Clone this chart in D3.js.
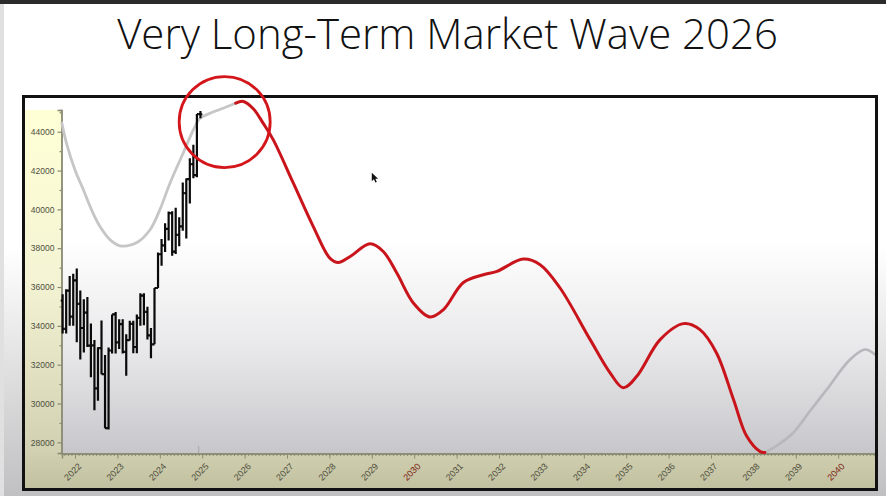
<!DOCTYPE html>
<html><head><meta charset="utf-8">
<script src="https://cdn.jsdelivr.net/npm/d3@7"></script>
<style>html,body{margin:0;padding:0;background:#fff;overflow:hidden}</style>
</head><body>
<svg id="c" width="886" height="496"></svg>
<script>
// ---------- DATA ----------
const titleText = "Very Long-Term Market Wave 2026";

// Monthly price bars (index)
const priceMonths = ["2021-09","2021-10","2021-11","2021-12","2022-01","2022-02","2022-03","2022-04","2022-05","2022-06","2022-07","2022-08","2022-09","2022-10","2022-11","2022-12","2023-01","2023-02","2023-03","2023-04","2023-05","2023-06","2023-07","2023-08","2023-09","2023-10","2023-11","2023-12","2024-01","2024-02","2024-03","2024-04","2024-05","2024-06","2024-07","2024-08","2024-09","2024-10","2024-11","2024-12"];
const priceOpen  = [35300,33840,35820,34480,36340,35130,33890,34680,32980,32990,30780,32850,31510,28730,32730,34590,33150,34090,32660,33270,34100,32910,34410,35560,34720,33510,33050,35950,37690,38150,39000,39810,37820,38690,39120,40840,41560,42330,41760,44910];
const priceHigh  = [35630,35890,36570,36680,36950,35820,35370,35490,34120,33270,32900,34280,32500,32890,34590,34710,34340,34340,33570,34260,34260,34590,35680,35680,34980,33890,35950,37780,38480,39280,39890,39900,40080,39600,41380,41590,42630,43330,44910,45070];
const priceLow   = [33610,33610,34010,34010,33150,32270,32630,32910,31350,29650,30140,31510,28720,28660,32570,32570,32810,32580,31430,33240,32590,32590,34000,34030,33300,32330,33050,35950,37100,37800,38400,37610,37700,38100,38900,38500,40300,41600,41650,44700];
const priceClose = [33840,35820,34480,36340,35130,33890,34680,32980,32990,30780,32850,31510,28730,32730,34590,33150,34090,32660,33270,34100,32910,34410,35560,34720,33510,33050,35950,37690,38150,39000,39810,37820,38690,39120,40840,41560,42330,41760,44910,44900];

// Long-term wave: past part (gray), forecast (red), later part (gray)
const histWaveT = [2021.69,2021.80,2022.00,2022.20,2022.39,2022.59,2022.83,2023.06,2023.46,2023.77,2024.00,2024.24,2024.55,2024.79,2024.95,2025.18,2025.58,2025.79];
const histWaveV = [44450,43400,42030,41000,39975,39115,38430,38125,38295,38950,39975,41350,42890,44090,44690,44945,45285,45470];
const forecastT = [2025.79,2025.97,2026.20,2026.44,2026.68,2027.15,2027.62,2028.01,2028.21,2028.49,2028.96,2029.27,2029.59,2029.98,2030.37,2030.69,2031.16,2031.63,2031.95,2032.57,2032.97,2033.44,2034.15,2034.62,2034.93,2035.25,2035.80,2036.35,2036.74,2037.13,2037.53,2037.84,2038.16,2038.27];
const forecastV = [45470,45560,45200,44430,43570,41350,39115,37490,37265,37575,38225,37830,36720,35180,34460,34835,36235,36635,36805,37440,37150,35950,33290,31580,30810,31405,33290,34115,33805,32605,30205,28320,27520,27470];
const futureWaveT = [2038.27,2038.60,2038.94,2039.33,2039.73,2040.28,2040.63,2040.87];
const futureWaveV = [27470,27900,28495,29600,30720,32265,32780,32520];

// Axis ticks
const yearLabels = ["2022","2023","2024","2025","2026","2027","2028","2029","2030","2031","2032","2033","2034","2035","2036","2037","2038","2039","2040"];
const redYearLabels = ["2030","2040"];
const yTickValues = [28000,30000,32000,34000,36000,38000,40000,42000,44000];

// Annotations
const circleNote = {t: 2025.53, v: 44500};
const cursorAt = {t: 2029.0, v: 41890};

// ---------- DRAW ----------
const W = 886, H = 496;
const L = 62, R = 875, T = 110, B = 453;
const svg = d3.select("#c");
const defs = svg.append("defs");
function grad(id, stops) {
  const g = defs.append("linearGradient").attr("id", id)
    .attr("x1", 0).attr("y1", 0).attr("x2", 0).attr("y2", 1);
  stops.forEach(s => g.append("stop").attr("offset", s[0]).attr("stop-color", s[1]));
}
grad("pageG", [[0, "#ffffff"], [0.5, "#ffffff"], [1, "#c0c0c2"]]);
grad("plotG", [[0, "#ffffff"], [0.38, "#ffffff"], [0.7, "#e8e8ea"], [1, "#c7c7cb"]]);
grad("leftG", [[0, "#ffffd6"], [0.45, "#f4f4d4"], [1, "#cac9ab"]]);
grad("botG", [[0, "#d0cfb0"], [1, "#c1c09f"]]);

svg.append("rect").attr("width", W).attr("height", H).attr("fill", "url(#pageG)");
svg.append("rect").attr("width", W).attr("height", 4).attr("fill", "#2b2b2b");
svg.append("rect").attr("x", 0).attr("y", 4).attr("width", 4).attr("height", H).attr("fill", "#e0e0e0");

// chart inner background
svg.append("rect").attr("x", 25).attr("y", 98).attr("width", 850).attr("height", 390).attr("fill", "#ffffff");
svg.append("rect").attr("x", 25).attr("y", T).attr("width", L - 25).attr("height", 488 - T).attr("fill", "url(#leftG)");
svg.append("rect").attr("x", 25).attr("y", B).attr("width", R - 25).attr("height", 488 - B).attr("fill", "url(#botG)");
svg.append("rect").attr("x", L).attr("y", T).attr("width", R - L).attr("height", B - T).attr("fill", "url(#plotG)");

const x = d3.scaleLinear().domain([2022 - (75 - L) / 42.4, 2022 + (R - 75) / 42.4]).range([L, R]);
const y = d3.scaleLinear().domain([27450, 45120]).range([B, T]);

// Y axis
const axisColor = "#8a8a74", labelColor = "#4f4f40";
const yMinor = d3.range(27000, 45001, 1000).filter(v => v % 2000 !== 0 && v >= 27450);
const gyMinor = svg.append("g").attr("transform", `translate(${L - 0.5},0)`)
  .call(d3.axisLeft(y).tickValues(yMinor).tickSize(2).tickFormat(""));
const gy = svg.append("g").attr("transform", `translate(${L - 0.5},0)`)
  .call(d3.axisLeft(y).tickValues(yTickValues).tickSize(4).tickPadding(3).tickFormat(d3.format("d")));
[gy, gyMinor].forEach(g => {
  g.select(".domain").attr("stroke", axisColor).attr("stroke-width", 1.4);
  g.selectAll(".tick line").attr("stroke", axisColor).attr("stroke-width", 1.2);
});
gy.selectAll(".tick text").attr("fill", labelColor)
  .style("font-family", "'Liberation Sans', Arial, sans-serif").style("font-size", "8.5px");

// X axis
const monthTicks = d3.range(0, 12 * 20).map(i => 2021 + i / 12).filter(t => t > x.domain()[0] && t < x.domain()[1]);
const gxMinor = svg.append("g").attr("transform", `translate(0,${B + 0.5})`)
  .call(d3.axisBottom(x).tickValues(monthTicks).tickSize(2.5).tickFormat(""));
const gx = svg.append("g").attr("transform", `translate(0,${B + 0.5})`)
  .call(d3.axisBottom(x).tickValues(yearLabels.map(Number)).tickSize(5).tickFormat(d3.format("d")));
[gx, gxMinor].forEach(g => {
  g.select(".domain").attr("stroke", axisColor).attr("stroke-width", 1.4);
  g.selectAll(".tick line").attr("stroke", axisColor).attr("stroke-width", 1);
});
gx.selectAll(".tick text")
  .attr("x", 0).attr("y", 0).attr("dy", 0)
  .attr("transform", "translate(6.5,13.5) rotate(-45)")
  .style("text-anchor", "end")
  .style("font-family", "'Liberation Sans', Arial, sans-serif").style("font-size", "9px")
  .attr("fill", d => redYearLabels.includes(String(d)) ? "#7c1d14" : labelColor);

// "now" marker on x axis
const lastT = (() => { const [yy, mm] = priceMonths[priceMonths.length - 1].split("-").map(Number); return yy + (mm - 1) / 12; })();
svg.append("line").attr("x1", x(lastT)).attr("x2", x(lastT)).attr("y1", B).attr("y2", B - 7)
  .attr("stroke", "#a8a8a8").attr("stroke-width", 1);

// Waves
const line = d3.line().x(d => x(d[0])).y(d => y(d[1])).curve(d3.curveCatmullRom.alpha(0.5));
const zip = (a, b) => a.map((v, i) => [v, b[i]]);
const plot = svg.append("g");
plot.append("path").datum(zip(histWaveT, histWaveV)).attr("d", line)
  .attr("fill", "none").attr("stroke", "#c6c6c6").attr("stroke-width", 2.8).attr("stroke-linecap", "round");
plot.append("path").datum(zip(futureWaveT, futureWaveV)).attr("d", line)
  .attr("fill", "none").attr("stroke", "#b8b8bc").attr("stroke-width", 2.6).attr("stroke-linecap", "round");

// Price bars
const bars = priceMonths.map((m, i) => {
  const [yy, mm] = m.split("-").map(Number);
  return {t: yy + (mm - 1) / 12 + 0.5 / 12, o: priceOpen[i], h: priceHigh[i], l: priceLow[i], c: priceClose[i]};
});
const tw = 1.9;
plot.append("g").selectAll("path").data(bars).join("path")
  .attr("d", d => {
    const cx = x(d.t);
    return `M${cx},${y(d.h)}V${y(d.l)}M${cx - tw},${y(d.o)}H${cx}M${cx},${y(d.c)}H${cx + tw}`;
  })
  .attr("fill", "none").attr("stroke", "#0a0a0a").attr("stroke-width", 2.2);

plot.append("path").datum(zip(forecastT, forecastV)).attr("d", line)
  .attr("fill", "none").attr("stroke", "#c8141a").attr("stroke-width", 3).attr("stroke-linecap", "round");

// Frame
svg.append("rect").attr("x", 23.5).attr("y", 96.5).attr("width", 853).attr("height", 393)
  .attr("fill", "none").attr("stroke", "#111").attr("stroke-width", 3);

// Red circle annotation
svg.append("circle").attr("cx", x(circleNote.t)).attr("cy", y(circleNote.v)).attr("r", 45.5)
  .attr("fill", "none").attr("stroke", "#d4161b").attr("stroke-width", 2.8);

// Mouse cursor
svg.append("path").attr("transform", `translate(${x(cursorAt.t)},${y(cursorAt.v)})`)
  .attr("d", "M0,0L0,8.5L2.1,6.6L3.6,9.8L5,9.2L3.6,6.1L6.3,6Z").attr("fill", "#111");

// Title
const title = svg.append("text").attr("x", 447.5).attr("y", 49).attr("text-anchor", "middle")
  .style("font-family", "'Open Sans', 'Noto Sans', sans-serif").style("font-weight", 300)
  .style("font-size", "40px").attr("fill", "#111").text(titleText);
const tl = title.node().getComputedTextLength();
title.style("font-size", (40 * 661 / tl) + "px");
</script>
</body></html>
